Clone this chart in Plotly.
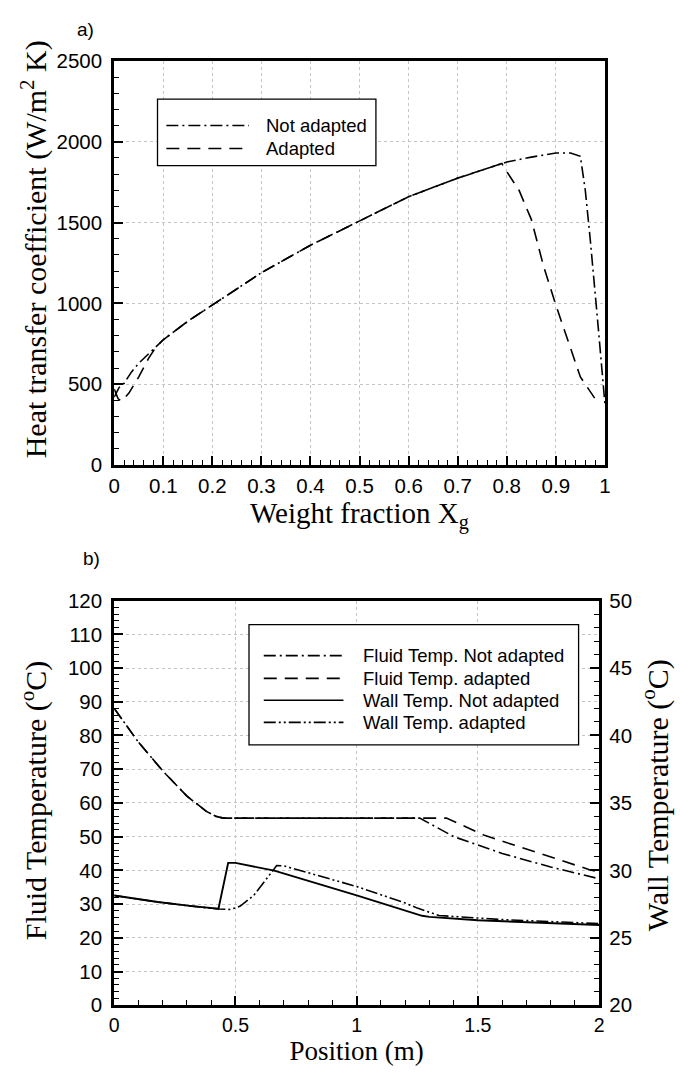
import plotly.graph_objects as go

W, H = 680, 1072

# ---------------- data: panel a) ----------------
xg_not_adapted = [0, 0.01, 0.02, 0.035, 0.05, 0.075, 0.1, 0.15, 0.2, 0.3, 0.4, 0.5,
                  0.6, 0.7, 0.8, 0.85, 0.9, 0.93, 0.95, 0.96, 0.97, 0.985, 1.0]
htc_not_adapted = [420, 480, 505, 575, 630, 700, 775, 890, 990, 1190, 1360, 1510,
                   1660, 1775, 1875, 1905, 1930, 1930, 1910, 1700, 1400, 900, 380]

xg_adapted = [0, 0.008, 0.015, 0.03, 0.05, 0.07, 0.085, 0.1, 0.15, 0.2, 0.3, 0.4, 0.5,
              0.6, 0.7, 0.79, 0.8, 0.825, 0.85, 0.875, 0.9, 0.93, 0.95, 0.98]
htc_adapted = [470, 410, 395, 445, 545, 660, 730, 775, 890, 990, 1190, 1360, 1510,
               1660, 1775, 1865, 1815, 1700, 1520, 1230, 990, 720, 545, 410]

# ---------------- data: panel b) ----------------
pos_fluid_not = [0, 0.1, 0.2, 0.3, 0.38, 0.42, 0.45, 1.26, 1.4, 1.6, 1.8, 2.0]
temp_fluid_not = [88, 78, 69.5, 62, 57.5, 56, 55.5, 55.5, 50, 45, 41, 37.5]

pos_fluid_ad = [0, 0.1, 0.2, 0.3, 0.38, 0.42, 0.45, 1.37, 1.53, 1.77, 1.96, 2.0]
temp_fluid_ad = [88, 78, 69.5, 62, 57.5, 56, 55.5, 55.5, 50.3, 44.6, 40.2, 39.5]

# wall temperatures (right axis, degC)
pos_wall_not = [0, 0.05, 0.18, 0.32, 0.43, 0.47, 0.5, 0.66, 1.0, 1.27, 1.3, 1.5, 1.75, 2.0]
temp_wall_not = [28.13, 28.0, 27.65, 27.35, 27.15, 30.55, 30.55, 29.98, 28.15, 26.63,
                 26.55, 26.3, 26.13, 25.95]

pos_wall_ad = [0, 0.05, 0.18, 0.32, 0.43, 0.48, 0.52, 0.575, 0.63, 0.67, 0.7, 1.0,
               1.2, 1.25, 1.34, 1.6, 2.0]
temp_wall_ad = [28.13, 28.0, 27.65, 27.35, 27.13, 27.1, 27.35, 28.13, 29.45, 30.35,
                30.33, 28.8, 27.58, 27.2, 26.65, 26.35, 26.05]

legend_a = ["Not adapted", "Adapted"]
legend_b = ["Fluid Temp. Not adapted", "Fluid Temp. adapted",
            "Wall Temp. Not adapted", "Wall Temp. adapted"]

# ---------------- styles ----------------
DASHDOT = "12px,4px,2px,4px"
DASH = "13px,8px"
DASHDOTDOT = "12px,3px,2px,3px,2px,3px"
LW = 1.6
SANS = "Liberation Sans"
SERIF = "Liberation Serif"


def fx(p):
    return p / W


def fy(p):
    return 1 - p / H


fig = go.Figure()

# panel a
fig.add_trace(go.Scatter(x=xg_adapted, y=htc_adapted, mode="lines", xaxis="x", yaxis="y",
                         line=dict(color="black", width=LW, dash=DASH), showlegend=False))
fig.add_trace(go.Scatter(x=xg_not_adapted, y=htc_not_adapted, mode="lines", xaxis="x", yaxis="y",
                         line=dict(color="black", width=LW, dash=DASHDOT), showlegend=False))

# panel b
fig.add_trace(go.Scatter(x=pos_fluid_ad, y=temp_fluid_ad, mode="lines", xaxis="x2", yaxis="y2",
                         line=dict(color="black", width=LW, dash=DASH), showlegend=False))
fig.add_trace(go.Scatter(x=pos_fluid_not, y=temp_fluid_not, mode="lines", xaxis="x2", yaxis="y2",
                         line=dict(color="black", width=LW, dash=DASHDOT), showlegend=False))
fig.add_trace(go.Scatter(x=pos_wall_ad, y=temp_wall_ad, mode="lines", xaxis="x2", yaxis="y3",
                         line=dict(color="black", width=LW, dash=DASHDOTDOT), showlegend=False))
fig.add_trace(go.Scatter(x=pos_wall_not, y=temp_wall_not, mode="lines", xaxis="x2", yaxis="y3",
                         line=dict(color="black", width=LW + 0.3, dash="solid"), showlegend=False))

tickfont = dict(family=SANS, size=20.5, color="black")


def axis(**kw):
    base = dict(showline=True, linewidth=3, linecolor="black", ticks="inside", ticklen=9,
                tickwidth=2, tickcolor="black", showgrid=True, gridcolor="#c4c4c4",
                griddash="dot", gridwidth=1, zeroline=False, tickfont=tickfont,
                fixedrange=True)
    base.update(kw)
    return base


def minor(d):
    return dict(ticks="inside", ticklen=5, tickwidth=1, tickcolor="black", dtick=d,
                showgrid=False)


BOT = 1015

fig.update_layout(
    width=W, height=H, margin=dict(l=0, r=0, t=0, b=0),
    paper_bgcolor="white", plot_bgcolor="white", showlegend=False,
    xaxis=axis(domain=[fx(110), fx(609)], anchor="y", range=[0, 1.0005], dtick=0.1,
               tick0=0, minor=minor(0.02), mirror=True),
    yaxis=axis(domain=[fy(463), fy(50)], anchor="x", range=[0, 2500], dtick=500,
               minor=minor(100), mirror=True, ticklabelstandoff=5),
    xaxis2=axis(domain=[fx(110), fx(603)], anchor="y2", range=[0, 2.0005], dtick=0.5,
                tick0=0, minor=minor(0.1), mirror=True,
                tickfont=dict(family=SANS, size=19.5, color="black"),
                title=dict(text="Position (m)", standoff=0,
                           font=dict(family=SERIF, size=27, color="black"))),
    yaxis2=axis(domain=[fy(BOT), fy(601.5)], anchor="x2", range=[0, 120], dtick=10,
                minor=minor(2), ticklabelstandoff=5),
    yaxis3=axis(domain=[fy(BOT), fy(601.5)], anchor="x2", overlaying="y2", side="right",
                range=[20, 50], dtick=5, minor=minor(1), showgrid=False,
                ticklabelstandoff=3),
)

annotations = [
    dict(text="a)", x=fx(81), y=fy(18), font=dict(family=SANS, size=19)),
    dict(text="b)", x=fx(87), y=fy(558), font=dict(family=SANS, size=19)),
    dict(text="Heat transfer coefficient (W/m<sup>2</sup> K)", x=fx(29), y=fy(243),
         textangle=-90, font=dict(family=SERIF, size=30)),
    dict(text="Weight fraction X<sub>g</sub>", x=fx(359), y=fy(515),
         font=dict(family=SERIF, size=29)),
    dict(text="Fluid Temperature (<sup>o</sup>C)", x=fx(29), y=fy(806),
         textangle=-90, font=dict(family=SERIF, size=30)),
    dict(text="Wall Temperature (<sup>o</sup>C)", x=fx(661), y=fy(800),
         textangle=-90, font=dict(family=SERIF, size=30)),
]

shapes = []

# legend a
shapes.append(dict(type="rect", xref="paper", yref="paper", x0=fx(154), x1=fx(376),
                   y0=fy(157), y1=fy(89), line=dict(color="black", width=1.3),
                   fillcolor="white", layer="above"))
rows_a = [116, 139.5]
dashes_a = [DASHDOT, DASH]
for name, ry, d in zip(legend_a, rows_a, dashes_a):
    shapes.append(dict(type="line", xref="paper", yref="paper", x0=fx(163), x1=fx(247),
                       y0=fy(ry), y1=fy(ry), line=dict(color="black", width=LW, dash=d)))
    annotations.append(dict(text=name, x=fx(263), y=fy(ry), xanchor="left",
                            font=dict(family=SANS, size=18.5)))

# legend b
shapes.append(dict(type="rect", xref="paper", yref="paper", x0=fx(247), x1=fx(582),
                   y0=fy(749), y1=fy(626), line=dict(color="black", width=1.3),
                   fillcolor="white", layer="above"))
rows_b = [657.7, 681, 703.3, 726]
dashes_b = [DASHDOT, DASH, "solid", DASHDOTDOT]
for name, ry, d in zip(legend_b, rows_b, dashes_b):
    shapes.append(dict(type="line", xref="paper", yref="paper", x0=fx(262), x1=fx(343),
                       y0=fy(ry), y1=fy(ry), line=dict(color="black", width=LW, dash=d)))
    annotations.append(dict(text=name, x=fx(362), y=fy(ry), xanchor="left",
                            font=dict(family=SANS, size=18.5)))

for a in annotations:
    a.setdefault("xref", "paper")
    a.setdefault("yref", "paper")
    a.setdefault("showarrow", False)
    a.setdefault("xanchor", "center")
    a.setdefault("yanchor", "middle")
    a.setdefault("borderpad", 0)
    a["font"].setdefault("color", "black")

fig.update_layout(annotations=annotations, shapes=shapes)

fig.write_html("out.html")
